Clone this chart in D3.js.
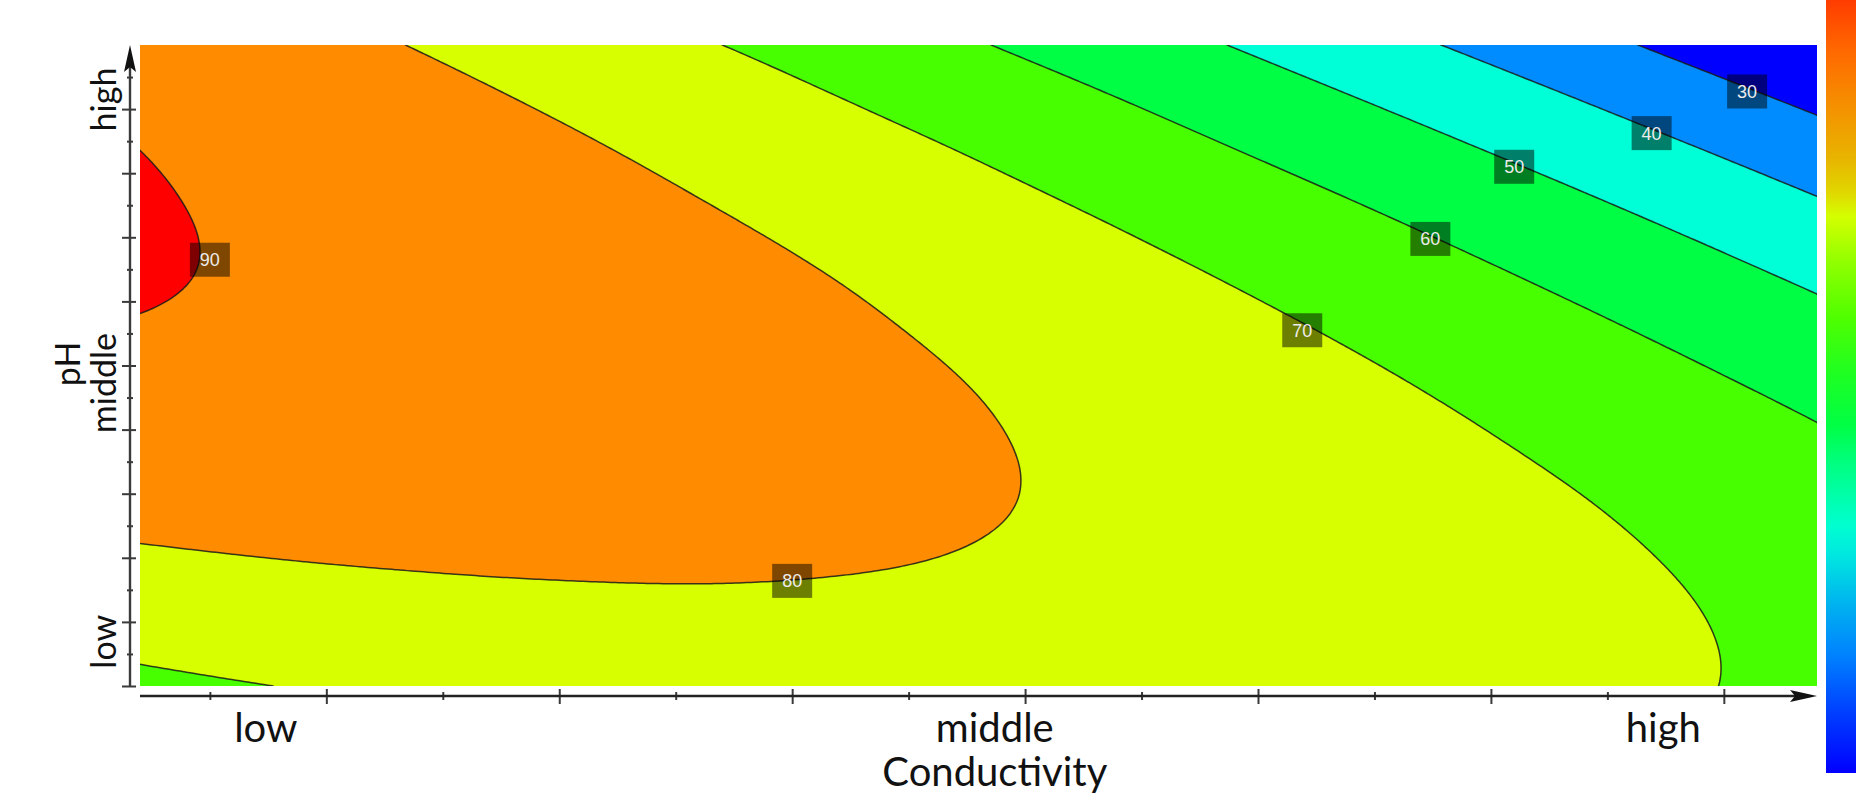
<!DOCTYPE html>
<html>
<head>
<meta charset="utf-8">
<script src="https://cdn.jsdelivr.net/npm/d3@7"></script>
<style>
  body { margin: 0; background: #fff; }
  svg { display: block; }
</style>
</head>
<body>
<div id="chart"></div>
<script>
// Contour plot - response over Conductivity and pH

const width = 1856;
const height = 801;

// response values, rows from top (high pH) to bottom (low pH)
const gridX = [-0.6, 0.6, 1.8, 3.0, 4.2, 5.4, 6.6, 7.8, 9.0, 10.2, 11.4, 12.6, 13.8];
const gridY = [20, 17.5, 15, 12.5, 10, 7.5, 5, 2.5, 0];
const gridZ = [
    [86.9, 83.4, 79.6, 75.4, 70.8, 65.9, 60.5, 54.8, 48.6, 42.1, 35.2, 27.9, 20.2],
    [89.5, 86.8, 83.7, 80.2, 76.3, 72.0, 67.4, 62.4, 56.9, 51.1, 44.9, 38.3, 31.3],
    [90.6, 88.6, 86.3, 83.5, 80.3, 76.8, 72.8, 68.5, 63.8, 58.7, 53.2, 47.3, 41.0],
    [90.4, 89.1, 87.5, 85.4, 82.9, 80.1, 76.8, 73.2, 69.2, 64.8, 60.0, 54.8, 49.2],
    [88.8, 88.2, 87.2, 85.9, 84.1, 81.9, 79.4, 76.5, 73.2, 69.5, 65.4, 60.9, 56.0],
    [85.7, 85.8, 85.6, 84.9, 83.8, 82.4, 80.5, 78.3, 75.7, 72.7, 69.3, 65.6, 61.4],
    [81.2, 82.0, 82.4, 82.5, 82.1, 81.4, 80.2, 78.7, 76.8, 74.5, 71.8, 68.7, 65.1],
    [75.2, 76.8, 77.9, 78.6, 79.0, 78.9, 78.5, 77.7, 76.5, 74.9, 72.8, 70.4, 67.5],
    [67.9, 70.1, 71.9, 73.3, 74.4, 75.1, 75.3, 75.2, 74.7, 73.8, 72.5, 70.6, 68.5]
];

const levels = [30, 40, 50, 60, 70, 80, 90];
const bandColors = ["#0000ff", "#008cff", "#00ffd7", "#00ff44", "#48ff00", "#d8ff00", "#ff8c00", "#ff0000"];

// contour labels
const labelValues = [90, 80, 70, 60, 50, 40, 30];
const labelX = [0.0, 5.0, 9.38, 10.48, 11.2, 12.38, 13.2];
const labelY = [13.3, 3.28, 11.1, 13.95, 16.2, 17.25, 18.55];

// axis labels
const xTickLabels = ["low", "middle", "high"];
const xTickLabelPos = [0.48, 6.74, 12.48];
const yTickLabels = ["low", "middle", "high"];
const yTickLabelPos = [1.38, 9.45, 18.3];

// colour bar stops, top to bottom
const barColors = ["#ff3c00", "#ff6a00", "#f59000", "#e8b400", "#e0d800", "#d4ff00", "#90ff00",
    "#50ff00", "#20ff20", "#00ff44", "#00ff80", "#00ffd0", "#00e8e0", "#00b0f0", "#0080ff", "#0040ff", "#0000ff"];
const barOffsets = [0, 0.068, 0.137, 0.205, 0.25, 0.28, 0.34, 0.41, 0.48, 0.55, 0.6, 0.68, 0.717, 0.785, 0.85, 0.92, 1];

const plot = { left: 140, right: 1817, top: 45, bottom: 686 };

const x = d3.scaleLinear().domain([gridX[0], gridX[gridX.length - 1]]).range([plot.left, plot.right]);
const y = d3.scaleLinear().domain([0, 20]).range([plot.bottom, plot.top]);

const svg = d3.select("#chart")
    .append("svg")
    .attr("width", width)
    .attr("height", height);

const defs = svg.append("defs");
defs.append("clipPath").attr("id", "plot-clip")
    .append("rect")
    .attr("x", plot.left).attr("y", plot.top)
    .attr("width", plot.right - plot.left).attr("height", plot.bottom - plot.top);

// --- resample the grid finer (bicubic) so the contours come out smooth
const nCols = gridX.length, nRows = gridY.length;
const padded = [];
for (let r = -1; r <= nRows; r++) {
    const rr = Math.min(Math.max(r, 0), nRows - 1);
    let row = gridZ[rr].slice();
    if (r === -1) row = gridZ[0].map((v, c) => 3 * v - 3 * gridZ[1][c] + gridZ[2][c]);
    if (r === nRows) row = gridZ[nRows - 1].map((v, c) => 3 * v - 3 * gridZ[nRows - 2][c] + gridZ[nRows - 3][c]);
    const n = row.length;
    padded.push([3 * row[0] - 3 * row[1] + row[2], ...row, 3 * row[n - 1] - 3 * row[n - 2] + row[n - 3]]);
}

function cr(p0, p1, p2, p3, t) {
    return 0.5 * (2 * p1 + (p2 - p0) * t + (2 * p0 - 5 * p1 + 4 * p2 - p3) * t * t + (3 * p1 - p0 - 3 * p2 + p3) * t * t * t);
}

function sample(fx, fy) {
    const c = Math.min(Math.floor(fx), nCols - 2), t = fx - c;
    const r = Math.min(Math.floor(fy), nRows - 2), s = fy - r;
    const col = [];
    for (let k = 0; k < 4; k++) {
        const row = padded[r + k];
        col.push(cr(row[c], row[c + 1], row[c + 2], row[c + 3], t));
    }
    return cr(col[0], col[1], col[2], col[3], s);
}

const nx = 421, ny = 161;
const values = new Array(nx * ny);
for (let j = 0; j < ny; j++) {
    for (let i = 0; i < nx; i++) {
        values[j * nx + i] = sample(i / (nx - 1) * (nCols - 1), j / (ny - 1) * (nRows - 1));
    }
}

const contours = d3.contours().size([nx, ny]).thresholds(levels)(values);

const sx = (plot.right - plot.left) / (nx - 1);
const sy = (plot.bottom - plot.top) / (ny - 1);
const path = d3.geoPath(d3.geoTransform({
    point(px, py) {
        this.stream.point(plot.left + (px - 0.5) * sx, plot.top + (py - 0.5) * sy);
    }
}));

const plotGroup = svg.append("g").attr("clip-path", "url(#plot-clip)");

plotGroup.append("rect")
    .attr("x", plot.left).attr("y", plot.top)
    .attr("width", plot.right - plot.left).attr("height", plot.bottom - plot.top)
    .attr("fill", bandColors[0]);

plotGroup.selectAll("path.band")
    .data(contours)
    .join("path")
    .attr("class", "band")
    .attr("d", path)
    .attr("fill", (d, i) => bandColors[i + 1]);

plotGroup.selectAll("path.iso")
    .data(contours)
    .join("path")
    .attr("class", "iso")
    .attr("d", path)
    .attr("fill", "none")
    .attr("stroke", "#1a1a1a")
    .attr("stroke-width", 1.5)
    .attr("stroke-opacity", 0.85);

// contour value labels
const labels = plotGroup.selectAll("g.clabel")
    .data(labelValues)
    .join("g")
    .attr("class", "clabel")
    .attr("transform", (d, i) => `translate(${x(labelX[i])}, ${y(labelY[i])})`);

labels.append("rect")
    .attr("x", -20).attr("y", -17)
    .attr("width", 40).attr("height", 34)
    .attr("fill", "rgba(0,0,0,0.5)");

labels.append("text")
    .attr("text-anchor", "middle")
    .attr("dy", "0.36em")
    .style("font-family", "'Liberation Sans', Arial, sans-serif")
    .style("font-size", "18px")
    .attr("fill", "#ececec")
    .text(d => d);

// --- axes
const axisColor = "#3a3a3a";

const yAxis = svg.append("g")
    .attr("transform", "translate(130,0)")
    .call(d3.axisLeft(y).tickValues(d3.range(0, 20)).tickFormat("").tickSizeOuter(0));
yAxis.select(".domain").remove();
yAxis.selectAll(".tick line")
    .attr("x1", d => d % 2 === 0 ? 6 : 3)
    .attr("x2", d => d % 2 === 0 ? -8 : -3)
    .attr("stroke", axisColor)
    .attr("stroke-width", 2);
yAxis.append("line")
    .attr("x1", 0).attr("x2", 0)
    .attr("y1", plot.bottom).attr("y2", plot.top + 20)
    .attr("stroke", axisColor).attr("stroke-width", 2.4);
yAxis.append("path")
    .attr("d", `M0,${plot.top} L-6,${plot.top + 27} L0,${plot.top + 22} L6,${plot.top + 27} Z`)
    .attr("fill", "#111");

const xAxis = svg.append("g")
    .attr("transform", "translate(0,696)")
    .call(d3.axisBottom(x).tickValues(d3.range(0, 14)).tickFormat("").tickSizeOuter(0));
xAxis.select(".domain").remove();
xAxis.selectAll(".tick line")
    .attr("y1", d => d % 2 === 1 ? -7 : -4)
    .attr("y2", d => d % 2 === 1 ? 8 : 4)
    .attr("stroke", axisColor)
    .attr("stroke-width", 2);
xAxis.append("line")
    .attr("x1", plot.left).attr("x2", plot.right - 20)
    .attr("y1", 0).attr("y2", 0)
    .attr("stroke", "#222").attr("stroke-width", 2.4);
xAxis.append("path")
    .attr("d", `M${plot.right},0 L${plot.right - 27},-6 L${plot.right - 22},0 L${plot.right - 27},6 Z`)
    .attr("fill", "#111");

const labelFont = "Lato, 'Noto Sans', sans-serif";

svg.selectAll("text.xlab")
    .data(xTickLabels)
    .join("text")
    .attr("class", "xlab")
    .attr("x", (d, i) => x(xTickLabelPos[i]))
    .attr("y", 742)
    .attr("text-anchor", "middle")
    .style("font-family", labelFont)
    .style("font-size", "40px")
    .attr("fill", "#111")
    .text(d => d);

svg.append("text")
    .attr("x", x(6.74))
    .attr("y", 786)
    .attr("text-anchor", "middle")
    .style("font-family", labelFont)
    .style("font-size", "40px")
    .attr("fill", "#111")
    .text("Conductivity");

svg.selectAll("text.ylab")
    .data(yTickLabels)
    .join("text")
    .attr("class", "ylab")
    .attr("transform", (d, i) => `translate(116, ${y(yTickLabelPos[i])}) rotate(-90)`)
    .attr("text-anchor", "middle")
    .style("font-family", labelFont)
    .style("font-size", "34px")
    .attr("fill", "#111")
    .text(d => d);

svg.append("text")
    .attr("transform", `translate(80, ${y(10.05)}) rotate(-90)`)
    .attr("text-anchor", "middle")
    .style("font-family", labelFont)
    .style("font-size", "34px")
    .attr("fill", "#111")
    .text("pH");

// --- colour bar (cut by the right edge of the window)
const grad = defs.append("linearGradient")
    .attr("id", "bar-grad")
    .attr("x1", 0).attr("y1", 0).attr("x2", 0).attr("y2", 1);
grad.selectAll("stop")
    .data(barColors)
    .join("stop")
    .attr("offset", (d, i) => barOffsets[i])
    .attr("stop-color", d => d);

svg.append("rect")
    .attr("x", 1826).attr("y", 0)
    .attr("width", 40).attr("height", 773)
    .attr("fill", "url(#bar-grad)");
</script>
</body>
</html>
